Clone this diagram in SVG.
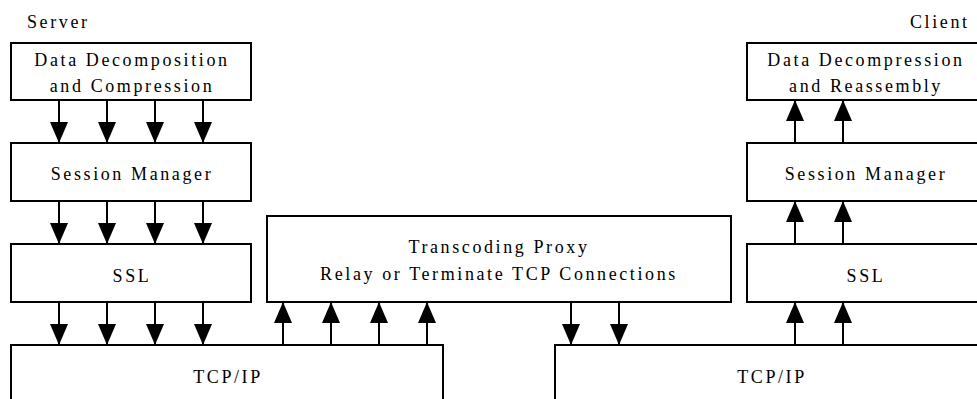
<svg xmlns="http://www.w3.org/2000/svg" width="977" height="399" viewBox="0 0 977 399">
<style>
.box{fill:#fff;stroke:#000;stroke-width:2}
text{font-family:'Liberation Serif','Times New Roman','DejaVu Serif',serif;font-size:18px;letter-spacing:2.6px;fill:#000}
.t{text-anchor:middle}
.c line{stroke:#000;stroke-width:2;marker-end:url(#ah)}
</style>
<defs>
<marker id="ah" viewBox="0 0 21 18" refX="21" refY="9" markerWidth="21" markerHeight="18" markerUnits="userSpaceOnUse" orient="auto">
<path d="M0,0 L21,9 L0,18 Z" fill="#000"/>
</marker>
</defs>
<rect width="977" height="399" fill="#fff"/>
<text x="27" y="28" font-family="Liberation Serif, serif">Server</text>
<text x="910" y="28" font-family="Liberation Serif, serif">Client</text>
<g id="s-data">
<rect class="box" x="11" y="43" width="240" height="57"/>
<text class="t" x="132" y="66">Data Decomposition</text>
<text class="t" x="132" y="92">and Compression</text>
</g>
<g id="s-session">
<rect class="box" x="11" y="143" width="240" height="58"/>
<text class="t" x="132" y="180">Session Manager</text>
</g>
<g id="s-ssl">
<rect class="box" x="11" y="244" width="240" height="58"/>
<text class="t" x="132" y="282">SSL</text>
</g>
<g id="s-tcp">
<rect class="box" x="11" y="345" width="432" height="70"/>
<text class="t" x="228" y="383">TCP/IP</text>
</g>
<g id="proxy">
<rect class="box" x="267" y="216" width="464" height="86"/>
<text class="t" x="499" y="253">Transcoding Proxy</text>
<text class="t" x="499" y="280">Relay or Terminate TCP Connections</text>
</g>
<g id="c-data">
<rect class="box" x="747" y="43" width="238" height="57"/>
<text class="t" x="866" y="66">Data Decompression</text>
<text class="t" x="866" y="92">and Reassembly</text>
</g>
<g id="c-session">
<rect class="box" x="747" y="143" width="238" height="58"/>
<text class="t" x="866" y="180">Session Manager</text>
</g>
<g id="c-ssl">
<rect class="box" x="747" y="244" width="238" height="58"/>
<text class="t" x="866" y="282">SSL</text>
</g>
<g id="c-tcp">
<rect class="box" x="555" y="345" width="432" height="70"/>
<text class="t" x="772" y="383">TCP/IP</text>
</g>
<g id="connectors" class="c">
<line x1="59" y1="100" x2="59" y2="143"/>
<line x1="107" y1="100" x2="107" y2="143"/>
<line x1="155" y1="100" x2="155" y2="143"/>
<line x1="203" y1="100" x2="203" y2="143"/>
<line x1="59" y1="201" x2="59" y2="244"/>
<line x1="107" y1="201" x2="107" y2="244"/>
<line x1="155" y1="201" x2="155" y2="244"/>
<line x1="203" y1="201" x2="203" y2="244"/>
<line x1="59" y1="302" x2="59" y2="345"/>
<line x1="107" y1="302" x2="107" y2="345"/>
<line x1="155" y1="302" x2="155" y2="345"/>
<line x1="203" y1="302" x2="203" y2="345"/>
<line x1="283" y1="345" x2="283" y2="302"/>
<line x1="331" y1="345" x2="331" y2="302"/>
<line x1="379" y1="345" x2="379" y2="302"/>
<line x1="427" y1="345" x2="427" y2="302"/>
<line x1="571" y1="302" x2="571" y2="345"/>
<line x1="619" y1="302" x2="619" y2="345"/>
<line x1="795" y1="345" x2="795" y2="302"/>
<line x1="843" y1="345" x2="843" y2="302"/>
<line x1="795" y1="244" x2="795" y2="201"/>
<line x1="843" y1="244" x2="843" y2="201"/>
<line x1="795" y1="143" x2="795" y2="100"/>
<line x1="843" y1="143" x2="843" y2="100"/>
</g>
</svg>
